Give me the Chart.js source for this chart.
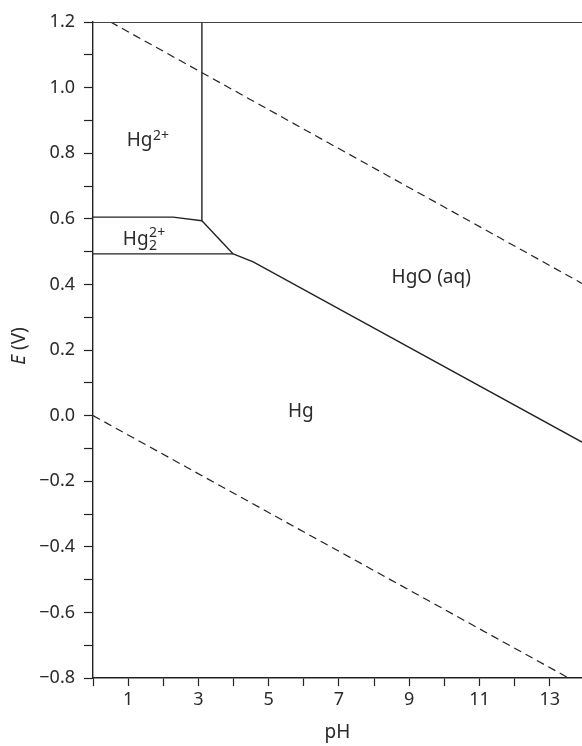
<!DOCTYPE html>
<html><head><meta charset="utf-8">
<script src="https://cdn.jsdelivr.net/npm/chart.js@4/dist/chart.umd.min.js"></script>
<style>html,body{margin:0;padding:0;background:#fff;overflow:hidden}#wrap{width:582px;height:746px}</style>
</head><body><div id="wrap"><canvas id="c" width="582" height="746"></canvas></div>
<script>
// ---- data (pH, E in V) ----
const xTicks = [0,1,2,3,4,5,6,7,8,9,10,11,12,13];
const xTickLabels = ['', '1', '', '3', '', '5', '', '7', '', '9', '', '11', '', '13'];
const yTicks = [-0.8,-0.7,-0.6,-0.5,-0.4,-0.3,-0.2,-0.1,0.0,0.1,0.2,0.3,0.4,0.5,0.6,0.7,0.8,0.9,1.0,1.1,1.2];
const yTickLabels = ['\u22120.8','','\u22120.6','','\u22120.4','','\u22120.2','','0.0','','0.2','','0.4','','0.6','','0.8','','1.0','','1.2'];
const xRange = [0, 13.92];
const yRange = [-0.8, 1.2];

const topLinePH = [0, 13.92];
const topLineE  = [1.2, 1.2];
const waterUpperPH = [0.5, 13.92];
const waterUpperE  = [1.2, 0.403];
const waterLowerPH = [0, 13.54];
const waterLowerE  = [0.0, -0.8];
const hg2HgOPH = [3.10, 3.10];
const hg2HgOE  = [1.2, 0.594];
const hg2Hg22PH = [0, 2.28, 3.10];
const hg2Hg22E  = [0.605, 0.605, 0.594];
const hg22HgPH = [0, 3.99];
const hg22HgE  = [0.493, 0.493];
const hg22HgOPH = [3.10, 3.99];
const hg22HgOE  = [0.594, 0.493];
const hgHgOPH = [3.99, 4.56, 13.92];
const hgHgOE  = [0.493, 0.469, -0.081];

// region labels: [main, sub, sup, pH, E(baseline)]
const regionLabels = [
  ['Hg', '', '2+', 0.96, 0.822],
  ['Hg', '2', '2+', 0.85, 0.52],
  ['HgO (aq)', '', '', 8.5, 0.405],
  ['Hg', '', '', 5.55, -0.005]
];

const pts = (xs, ys) => xs.map((x, i) => ({x: x, y: ys[i]}));
const LINE = '#222';
function ds(xs, ys, opts) {
  return Object.assign({data: pts(xs, ys), showLine: true, borderColor: LINE, borderWidth: 1.4,
    pointRadius: 0, fill: false, tension: 0}, opts || {});
}

const FONT = '"Noto Sans", "Open Sans", sans-serif';

const labelPlugin = {
  id: 'labels',
  afterDatasetsDraw(chart) {
    const ctx = chart.ctx;
    const xs = chart.scales.x, ys = chart.scales.y;
    ctx.save();
    ctx.fillStyle = '#2a2a2a';
    ctx.textBaseline = 'alphabetic';
    ctx.textAlign = 'left';
    regionLabels.forEach(l => {
      let px = xs.getPixelForValue(l[3]);
      const py = ys.getPixelForValue(l[4]);
      ctx.font = '19px ' + FONT;
      ctx.fillText(l[0], px, py);
      px += ctx.measureText(l[0]).width + 0.5;
      ctx.font = '14px ' + FONT;
      if (l[1]) ctx.fillText(l[1], px, py + 5);
      if (l[2]) ctx.fillText(l[2], px, py - (l[1] ? 8 : 6));
    });
    // y-axis title with italic E
    ctx.translate(20, (chart.chartArea.top + chart.chartArea.bottom) / 2 - 4);
    ctx.rotate(-Math.PI / 2);
    ctx.textBaseline = 'middle';
    ctx.font = 'italic 19px ' + FONT;
    const w1 = ctx.measureText('E').width;
    ctx.font = '19px ' + FONT;
    const w2 = ctx.measureText(' (V)').width;
    let sx = -(w1 + w2) / 2;
    ctx.font = 'italic 19px ' + FONT;
    ctx.fillText('E', sx, 0);
    ctx.font = '19px ' + FONT;
    ctx.fillText(' (V)', sx + w1, 0);
    ctx.restore();
  }
};

Chart.defaults.font.family = FONT;
Chart.defaults.color = '#2a2a2a';

new Chart(document.getElementById('c'), {
  type: 'scatter',
  data: {datasets: [
    ds(topLinePH, topLineE, {borderColor: '#444', borderWidth: 2}),
    ds(waterUpperPH, waterUpperE, {borderDash: [8, 5], borderWidth: 1.2}),
    ds(waterLowerPH, waterLowerE, {borderDash: [8, 5], borderWidth: 1.2}),
    ds(hg2HgOPH, hg2HgOE),
    ds(hg2Hg22PH, hg2Hg22E),
    ds(hg22HgPH, hg22HgE),
    ds(hg22HgOPH, hg22HgOE),
    ds(hgHgOPH, hgHgOE)
  ]},
  options: {
    responsive: false,
    animation: false,
    devicePixelRatio: 1,
    layout: {padding: {top: 22, right: 0, left: 0, bottom: 0}},
    plugins: {legend: {display: false}, tooltip: {enabled: false}},
    scales: {
      x: {
        type: 'linear', min: xRange[0], max: xRange[1],
        afterBuildTicks: s => { s.ticks = xTicks.map(v => ({value: v})); },
        afterFit: s => { s.height = 68; },
        ticks: {autoSkip: false, maxRotation: 0, padding: 3, font: {size: 18},
          callback: (v, i) => xTickLabels[i]},
        grid: {drawOnChartArea: false, drawTicks: true, tickLength: 8, tickColor: LINE, tickWidth: 1.2},
        border: {display: true, color: LINE, width: 1.4},
        title: {display: true, text: 'pH', font: {size: 19}, padding: {top: 0, bottom: 2}}
      },
      y: {
        type: 'linear', min: yRange[0], max: yRange[1],
        afterBuildTicks: s => { s.ticks = yTicks.map(v => ({value: v})); },
        afterFit: s => { s.width = 93; },
        ticks: {autoSkip: false, padding: 9, font: {size: 18},
          callback: (v, i) => yTickLabels[i]},
        grid: {drawOnChartArea: false, drawTicks: true, tickLength: 9, tickColor: LINE, tickWidth: 1.2},
        border: {display: true, color: LINE, width: 1.4}
      }
    }
  },
  plugins: [labelPlugin]
});
</script>
</body></html>
